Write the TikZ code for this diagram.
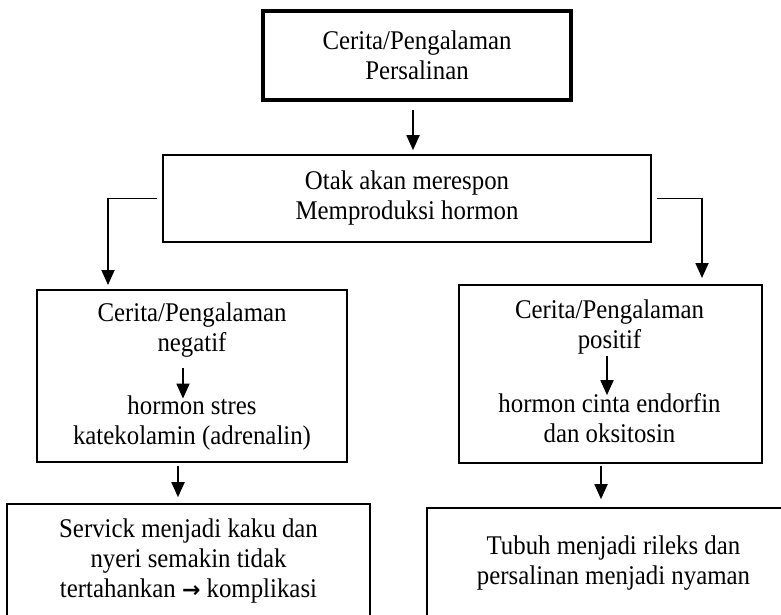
\documentclass[tikz,border=0pt]{standalone}
\usepackage{fontspec}
\setmainfont{Liberation Serif}[FakeStretch=0.92]
\newfontfamily\arrowfont{DejaVu Sans}
\usepackage{tikz}
\usetikzlibrary{arrows.meta,positioning}

\begin{document}
\begin{tikzpicture}[x=1pt, y=-1pt,
    font=\fontsize{27}{30}\selectfont,
    box/.style={draw, line width=1.6pt, align=center, inner sep=0pt},
    txt/.style={align=center, inner sep=0pt},
    arr/.style={-{Triangle[length=15pt,width=13pt]}, line width=1.8pt}]
            \useasboundingbox[fill=white] (0,0) rectangle (781,615);
            \node[box, line width=3.6pt, minimum width=308pt, minimum height=89pt](cerita) at (417,55.5) {Cerita/Pengalaman\\Persalinan};
            \node[box, minimum width=488pt, minimum height=87pt](otak) at (407,198.5) {Otak akan merespon\\Memproduksi hormon};
            \node[box, minimum width=310pt, minimum height=172pt](neg) at (192,376) {};
            \node[box, minimum width=303pt, minimum height=178pt](pos) at (610.5,374) {};
            \node[txt](neg_1) at (192,330) {Cerita/Pengalaman\\negatif};
            \node[txt](neg_2) at (192,423) {hormon stres\\katekolamin (adrenalin)};
            \node[txt](pos_1) at (609.5,327) {Cerita/Pengalaman\\positif};
            \node[txt](pos_2) at (609.5,418) {hormon cinta endorfin\\dan oksitosin};
            \node[box, minimum width=363pt, minimum height=114pt](servick) at (188.5,561) {Servick menjadi kaku dan\\nyeri semakin tidak\\tertahankan {\arrowfont\bfseries\fontsize{22}{30}\selectfont →} komplikasi};
            \node[box, minimum width=373pt, minimum height=110pt](tubuh) at (613.5,563) {Tubuh menjadi rileks dan\\persalinan menjadi nyaman};
            \coordinate (neg_in) at (108,285);
            \coordinate (pos_in) at (702,278);
            \draw[arr] ([xshift=-4pt,yshift=-8pt]cerita.south) -- ([xshift=6pt,yshift=4pt]otak.north);
            \draw[arr] ([xshift=-5pt]otak.west) -| (neg_in);
            \draw[arr] ([xshift=5pt]otak.east) -| (pos_in);
            \draw[arr] ([xshift=-9pt,yshift=-11pt]neg_1.south) -- ([xshift=-9pt,yshift=-3pt]neg_2.north);
            \draw[arr] ([xshift=-2.5pt,yshift=-2pt]pos_1.south) -- ([xshift=-2.5pt,yshift=-2pt]pos_2.north);
            \draw[arr] ([xshift=-14pt,yshift=-3pt]neg.south) -- ([xshift=-10.5pt,yshift=6pt]servick.north);
            \draw[arr] ([xshift=-9.5pt,yshift=-2pt]pos.south) -- ([xshift=-12.5pt,yshift=8pt]tubuh.north);
        \end{tikzpicture}
\end{document}
